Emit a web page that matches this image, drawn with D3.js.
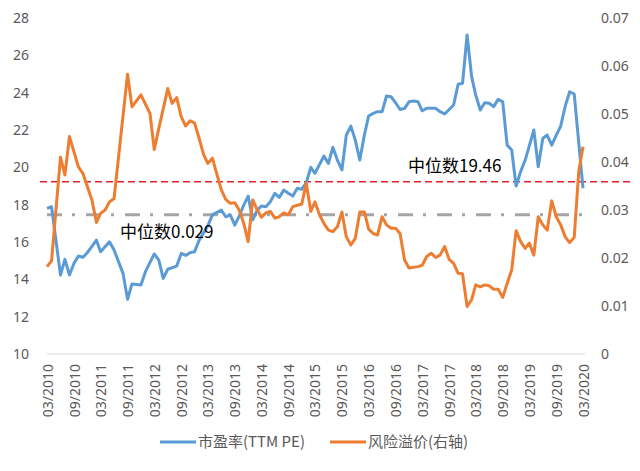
<!DOCTYPE html>
<html>
<head>
<meta charset="utf-8">
<script src="https://cdn.jsdelivr.net/npm/d3@7"></script>
<style>
  body { margin: 0; background: #fff; }
  text { font-family: "Noto Sans", "Noto Sans CJK SC", sans-serif; }
</style>
</head>
<body>
<svg id="chart" width="640" height="471"></svg>
<script>
// PE (TTM), left axis
const peData = [
  ['2010-03', 17.80], ['2010-04', 17.89], ['2010-06', 14.23], ['2010-07', 15.07], ['2010-08', 14.23],
  ['2010-09', 14.86], ['2010-10', 15.25], ['2010-11', 15.18], ['2010-12', 15.43], ['2011-02', 16.10],
  ['2011-03', 15.48], ['2011-05', 16.01], ['2011-06', 15.57], ['2011-08', 14.32], ['2011-09', 12.93],
  ['2011-10', 13.75], ['2011-12', 13.70], ['2012-01', 14.41], ['2012-03', 15.36], ['2012-04', 15.03],
  ['2012-05', 14.05], ['2012-06', 14.54], ['2012-08', 14.71], ['2012-09', 15.39], ['2012-10', 15.28],
  ['2012-11', 15.43], ['2012-12', 15.48], ['2013-01', 16.10], ['2013-03', 16.86], ['2013-04', 17.45],
  ['2013-06', 17.71], ['2013-07', 17.35], ['2013-08', 17.45], ['2013-09', 16.90], ['2013-10', 17.39],
  ['2013-11', 17.98], ['2013-12', 18.46], ['2014-01', 17.18], ['2014-02', 17.71], ['2014-03', 17.93],
  ['2014-04', 17.89], ['2014-05', 18.16], ['2014-06', 18.61], ['2014-07', 18.39], ['2014-08', 18.78],
  ['2014-09', 18.61], ['2014-10', 18.46], ['2014-11', 18.88], ['2014-12', 18.82], ['2015-01', 19.18],
  ['2015-02', 20.00], ['2015-03', 19.68], ['2015-05', 20.60], ['2015-06', 20.21], ['2015-07', 21.07],
  ['2015-08', 20.39], ['2015-09', 19.86], ['2015-10', 21.73], ['2015-11', 22.21], ['2015-12', 21.46],
  ['2016-01', 20.39], ['2016-02', 21.73], ['2016-03', 22.75], ['2016-04', 22.89], ['2016-05', 22.98],
  ['2016-06', 22.98], ['2016-07', 23.82], ['2016-08', 23.78], ['2016-09', 23.46], ['2016-10', 23.10],
  ['2016-11', 23.16], ['2016-12', 23.51], ['2017-01', 23.55], ['2017-02', 23.51], ['2017-03', 23.03],
  ['2017-04', 23.16], ['2017-06', 23.16], ['2017-07', 22.98], ['2017-08', 22.86], ['2017-09', 23.10],
  ['2017-10', 23.34], ['2017-11', 24.45], ['2017-12', 24.50], ['2018-01', 27.09], ['2018-02', 24.86],
  ['2018-03', 23.87], ['2018-04', 23.07], ['2018-05', 23.46], ['2018-06', 23.43], ['2018-07', 23.25],
  ['2018-08', 23.64], ['2018-09', 23.51], ['2018-10', 21.19], ['2018-11', 20.93], ['2018-12', 19.00],
  ['2019-01', 19.77], ['2019-02', 20.39], ['2019-04', 22.00], ['2019-05', 20.03], ['2019-06', 21.55],
  ['2019-07', 21.73], ['2019-08', 21.19], ['2019-09', 21.73], ['2019-10', 22.21], ['2019-11', 23.28],
  ['2019-12', 24.05], ['2020-01', 23.93], ['2020-03', 18.88]
];

// risk premium, right axis
const riskData = [
  ['2010-03', 0.0182], ['2010-04', 0.0194], ['2010-06', 0.0410], ['2010-07', 0.0373], ['2010-08', 0.0453],
  ['2010-10', 0.0390], ['2010-11', 0.0376], ['2011-01', 0.0321], ['2011-02', 0.0274], ['2011-03', 0.0293],
  ['2011-04', 0.0300], ['2011-05', 0.0317], ['2011-06', 0.0324], ['2011-09', 0.0583], ['2011-10', 0.0515],
  ['2011-12', 0.0540], ['2012-02', 0.0501], ['2012-03', 0.0426], ['2012-04', 0.0470], ['2012-06', 0.0553],
  ['2012-07', 0.0522], ['2012-08', 0.0534], ['2012-09', 0.0494], ['2012-10', 0.0475], ['2012-11', 0.0486],
  ['2012-12', 0.0481], ['2013-01', 0.0449], ['2013-02', 0.0415], ['2013-03', 0.0397], ['2013-04', 0.0408],
  ['2013-06', 0.0342], ['2013-07', 0.0322], ['2013-08', 0.0314], ['2013-09', 0.0315], ['2013-10', 0.0300],
  ['2013-11', 0.0272], ['2013-12', 0.0234], ['2014-01', 0.0321], ['2014-02', 0.0300], ['2014-03', 0.0285],
  ['2014-04', 0.0294], ['2014-05', 0.0297], ['2014-06', 0.0283], ['2014-07', 0.0286], ['2014-08', 0.0294],
  ['2014-09', 0.0290], ['2014-10', 0.0307], ['2014-11', 0.0310], ['2014-12', 0.0312], ['2015-01', 0.0356],
  ['2015-02', 0.0297], ['2015-03', 0.0317], ['2015-04', 0.0290], ['2015-05', 0.0272], ['2015-06', 0.0258],
  ['2015-07', 0.0255], ['2015-08', 0.0265], ['2015-09', 0.0296], ['2015-10', 0.0244], ['2015-11', 0.0227],
  ['2015-12', 0.0241], ['2016-01', 0.0296], ['2016-02', 0.0296], ['2016-03', 0.0260], ['2016-04', 0.0251],
  ['2016-05', 0.0248], ['2016-06', 0.0286], ['2016-07', 0.0269], ['2016-08', 0.0262], ['2016-09', 0.0262],
  ['2016-10', 0.0251], ['2016-11', 0.0196], ['2016-12', 0.0179], ['2017-02', 0.0182], ['2017-03', 0.0185],
  ['2017-04', 0.0203], ['2017-05', 0.0210], ['2017-06', 0.0201], ['2017-07', 0.0206], ['2017-08', 0.0224],
  ['2017-09', 0.0197], ['2017-10', 0.0189], ['2017-11', 0.0168], ['2017-12', 0.0167], ['2018-01', 0.0099],
  ['2018-02', 0.0113], ['2018-03', 0.0144], ['2018-04', 0.0140], ['2018-05', 0.0144], ['2018-06', 0.0142],
  ['2018-07', 0.0135], ['2018-08', 0.0135], ['2018-09', 0.0118], ['2018-10', 0.0147], ['2018-11', 0.0175],
  ['2018-12', 0.0257], ['2019-01', 0.0234], ['2019-02', 0.0220], ['2019-03', 0.0231], ['2019-04', 0.0206],
  ['2019-05', 0.0286], ['2019-06', 0.0269], ['2019-07', 0.0258], ['2019-08', 0.0319], ['2019-09', 0.0286],
  ['2019-10', 0.0269], ['2019-11', 0.0244], ['2019-12', 0.0232], ['2020-01', 0.0243], ['2020-02', 0.0380],
  ['2020-03', 0.0432]
];

const xTickLabels = [
  '03/2010', '09/2010', '03/2011', '09/2011', '03/2012', '09/2012', '03/2013', '09/2013',
  '03/2014', '09/2014', '03/2015', '09/2015', '03/2016', '09/2016', '03/2017', '09/2017',
  '03/2018', '09/2018', '03/2019', '09/2019', '03/2020'
];
const peTicks = [10, 12, 14, 16, 18, 20, 22, 24, 26, 28];
const riskTicks = [0, 0.01, 0.02, 0.03, 0.04, 0.05, 0.06, 0.07];

const peMedianLevel = 19.23;   // where the red line sits in the picture
const peMedianLabel = '中位数19.46';
const riskMedian = 0.029;
const riskMedianLabel = '中位数0.029';

const seriesNames = ['市盈率(TTM PE)', '风险溢价(右轴)'];
const seriesColors = ['#5b9bd5', '#ed7d31'];

const parseMonth = d3.timeParse('%Y-%m');
const parseTick = d3.timeParse('%m/%Y');

const pe = peData.map(([d, v]) => ({ date: parseMonth(d), value: v }));
const risk = riskData.map(([d, v]) => ({ date: parseMonth(d), value: v }));

const svg = d3.select('#chart');

const x = d3.scaleTime()
  .domain([parseTick('03/2010'), parseTick('03/2020')])
  .range([47, 583]);
const yLeft = d3.scaleLinear().domain([10, 28]).range([354, 18]);
const yRight = d3.scaleLinear().domain([0, 0.07]).range([354, 18]);

// bottom axis line
svg.append('line')
  .attr('x1', x.range()[0]).attr('x2', x.range()[1] + 2)
  .attr('y1', yLeft(10)).attr('y2', yLeft(10))
  .attr('stroke', '#d9d9d9')
  .attr('stroke-width', 1);

// left axis
const leftAxis = svg.append('g')
  .attr('transform', `translate(${x.range()[0]},0)`)
  .call(d3.axisLeft(yLeft).tickValues(peTicks).tickSize(0).tickPadding(18));
leftAxis.select('.domain').remove();

// right axis
const rightAxis = svg.append('g')
  .attr('transform', `translate(${x.range()[1]},0)`)
  .call(d3.axisRight(yRight).tickValues(riskTicks).tickSize(0).tickPadding(18)
    .tickFormat(d => d === 0 ? '0' : d3.format('.2f')(d)));
rightAxis.select('.domain').remove();

// x labels, rotated
const xAxis = svg.append('g')
  .attr('transform', `translate(0,${yLeft(10)})`)
  .call(d3.axisBottom(x).tickValues(xTickLabels.map(parseTick)).tickSize(0)
    .tickFormat(d3.timeFormat('%m/%Y')));
xAxis.select('.domain').remove();
xAxis.selectAll('text')
  .attr('transform', 'rotate(-90)')
  .attr('text-anchor', 'end')
  .attr('x', -10)
  .attr('y', 0)
  .attr('dy', '0.36em');

svg.selectAll('.tick text')
  .attr('fill', '#595959')
  .style('font-size', '14px')
  .style('font-family', '"Noto Sans", sans-serif');

// grey median (right axis)
svg.append('line')
  .attr('x1', x.range()[0]).attr('x2', x.range()[1])
  .attr('y1', yRight(riskMedian)).attr('y2', yRight(riskMedian))
  .attr('stroke', '#a5a5a5')
  .attr('stroke-width', 3)
  .attr('stroke-dasharray', '15 10 3 11');

// red median (left axis)
svg.append('line')
  .attr('x1', 40).attr('x2', 632)
  .attr('y1', yLeft(peMedianLevel)).attr('y2', yLeft(peMedianLevel))
  .attr('stroke', '#e0202a')
  .attr('stroke-width', 1.5)
  .attr('stroke-dasharray', '7 4');

const lineLeft = d3.line().x(d => x(d.date)).y(d => yLeft(d.value));
const lineRight = d3.line().x(d => x(d.date)).y(d => yRight(d.value));

svg.append('path')
  .datum(pe)
  .attr('d', lineLeft)
  .attr('fill', 'none')
  .attr('stroke', seriesColors[0])
  .attr('stroke-width', 3)
  .attr('stroke-linejoin', 'round');

svg.append('path')
  .datum(risk)
  .attr('d', lineRight)
  .attr('fill', 'none')
  .attr('stroke', seriesColors[1])
  .attr('stroke-width', 3)
  .attr('stroke-linejoin', 'round');

// median labels
svg.append('text')
  .attr('x', 120)
  .attr('y', yRight(riskMedian) + 23)
  .style('font-size', '17px')
  .style('font-family', '"Noto Sans CJK SC", sans-serif')
  .attr('fill', '#000')
  .text(riskMedianLabel);

svg.append('text')
  .attr('x', 408)
  .attr('y', yLeft(peMedianLevel) - 10)
  .style('font-size', '17px')
  .style('font-family', '"Noto Sans CJK SC", sans-serif')
  .attr('fill', '#000')
  .text(peMedianLabel);

// legend
const legendX = [160, 330];
const legend = svg.append('g')
  .selectAll('g')
  .data(seriesNames)
  .join('g')
  .attr('transform', (d, i) => `translate(${legendX[i]},442)`);

legend.append('line')
  .attr('x1', 0).attr('x2', 36)
  .attr('stroke', (d, i) => seriesColors[i])
  .attr('stroke-width', 3);

legend.append('text')
  .attr('x', 38)
  .attr('dy', '0.36em')
  .attr('fill', '#595959')
  .style('font-size', '15px')
  .style('font-family', '"Noto Sans CJK SC", sans-serif')
  .text(d => d);
</script>
</body>
</html>
